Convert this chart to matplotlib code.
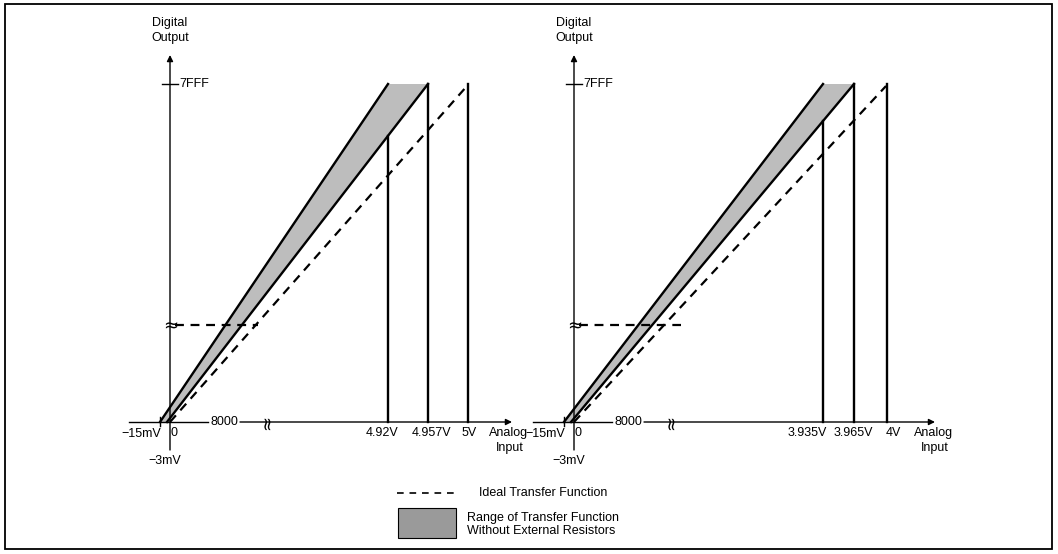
import numpy as np
import matplotlib
matplotlib.use('Agg')
import matplotlib.pyplot as plt
from matplotlib.patches import Polygon, Rectangle

plt.rcParams['font.family'] = ['Liberation Sans', 'DejaVu Sans']

'''
Data (schematic drawing units, x measured from each panel's 0 V origin):
'''
panel_origin = [170, 574]
code_zero, code_full, code_break = 422, 84, 325
code_labels = ['8000', '7FFF']
origin_labels = ['\u221215mV', '0', '\u22123mV']

volt_labels = [['4.92V', '4.957V', '5V'],
               ['3.935V', '3.965V', '4V']]
volt_x = [[218, 258, 298],
          [249, 280, 313]]

# transfer lines: start at code 8000, end at code 7FFF
upper_start = [-10, -10]
upper_end = [218, 249]
lower_start = [-3, -3]
lower_end = [258, 280]
ideal_start = [0, 0]
ideal_end = [297, 312]
break_dash_end = [88, 107]

legend_labels = ['Ideal Transfer Function',
                 'Range of Transfer Function\nWithout External Resistors']

'''
Layout:
'''
FS = 9
BAND = '#bdbdbd'
label_x = [[212, 262, 299], [233, 279, 319]]
axis_end = [342, 361]
input_label_x = [339, 360]


def arrow(ax, x1, y1, x2, y2):
    ax.annotate('', xy=(x2, y2), xytext=(x1, y1),
                arrowprops=dict(arrowstyle='-|>', lw=1.0, color='k',
                                mutation_scale=9, shrinkA=0, shrinkB=0))


def draw_panel(ax, i):
    x0 = panel_origin[i]
    # transfer band
    band = Polygon([(x0 + upper_start[i], code_zero), (x0 + upper_end[i], code_full),
                    (x0 + lower_end[i], code_full), (x0 + lower_start[i], code_zero)],
                   closed=True, facecolor=BAND, edgecolor='none', zorder=1)
    ax.add_patch(band)
    ax.plot([x0 + upper_start[i], x0 + upper_end[i]], [code_zero, code_full], color='k', lw=1.7, zorder=3)
    ax.plot([x0 + lower_start[i], x0 + lower_end[i]], [code_zero, code_full], color='k', lw=1.7, zorder=3)
    ax.plot([x0 + ideal_start[i], x0 + ideal_end[i]], [code_zero, code_full + 2], color='k', lw=1.6,
            ls=(0, (4, 3)), zorder=3)

    # verticals at the full scale inputs
    lx = [x0 + lower_start[i], x0 + lower_end[i]]
    for j, vx in enumerate(volt_x[i]):
        top = code_full
        if j == 0:
            top = np.interp(x0 + vx, lx, [code_zero, code_full])
        ax.plot([x0 + vx, x0 + vx], [code_zero, top], color='k', lw=1.7, zorder=3)
        ax.text(x0 + label_x[i][j], 433, volt_labels[i][j], ha='center', va='center', fontsize=FS)

    # axes
    arrow(ax, x0, 450, x0, 55)
    ax.plot([x0 - 41, x0 + 38], [code_zero, code_zero], color='k', lw=1.0)
    arrow(ax, x0 + 70, code_zero, x0 + axis_end[i], code_zero)
    ax.text(x0 + 54, code_zero, code_labels[0], ha='center', va='center', fontsize=FS)
    ax.text(x0 + 97, code_zero, '\u2248', ha='center', va='center', fontsize=13, rotation=90,
            family='DejaVu Sans')
    ax.plot([x0 - 8, x0 + 8], [code_full, code_full], color='k', lw=1.0)
    ax.text(x0 + 9, code_full, code_labels[1], ha='left', va='center', fontsize=FS)
    ax.plot([x0 - 10, x0 - 10], [417, 426], color='k', lw=1.0)

    # break in the code axis
    ax.text(x0 + 1, code_break + 1, '\u2248', ha='center', va='center', fontsize=13,
            family='DejaVu Sans')
    ax.plot([x0 + 5, x0 + break_dash_end[i]], [code_break, code_break], color='k', lw=1.6,
            ls=(0, (4, 3)))

    ax.text(x0 - 9, 434, origin_labels[0], ha='right', va='center', fontsize=FS)
    ax.text(x0 + 4, 433, origin_labels[1], ha='center', va='center', fontsize=FS)
    ax.text(x0 - 5, 461, origin_labels[2], ha='center', va='center', fontsize=FS)

    ax.text(x0, 23, 'Digital', ha='center', va='center', fontsize=FS)
    ax.text(x0, 38, 'Output', ha='center', va='center', fontsize=FS)
    ax.text(x0 + input_label_x[i], 433, 'Analog', ha='center', va='center', fontsize=FS)
    ax.text(x0 + input_label_x[i] + 1, 448, 'Input', ha='center', va='center', fontsize=FS)


fig = plt.figure(figsize=(10.58, 5.54), dpi=100)
ax = fig.add_axes([0, 0, 1, 1])
ax.set_xlim(0, 1058)
ax.set_ylim(554, 0)
ax.axis('off')

for i in range(2):
    draw_panel(ax, i)

# legend
ax.plot([397, 456], [493, 493], color='k', lw=1.2, ls=(0, (4, 3.5)))
ax.text(479, 493, legend_labels[0], ha='left', va='center', fontsize=FS)
ax.add_patch(Rectangle((398, 508), 58, 30, facecolor='#9a9a9a', edgecolor='k', lw=0.8))
ax.text(467, 524.5, legend_labels[1], ha='left', va='center', fontsize=FS, linespacing=1.2)

# frame
ax.add_patch(Rectangle((5, 4), 1047, 545, facecolor='none', edgecolor='k', lw=1.3))

fig.savefig('out.png', dpi=100)
